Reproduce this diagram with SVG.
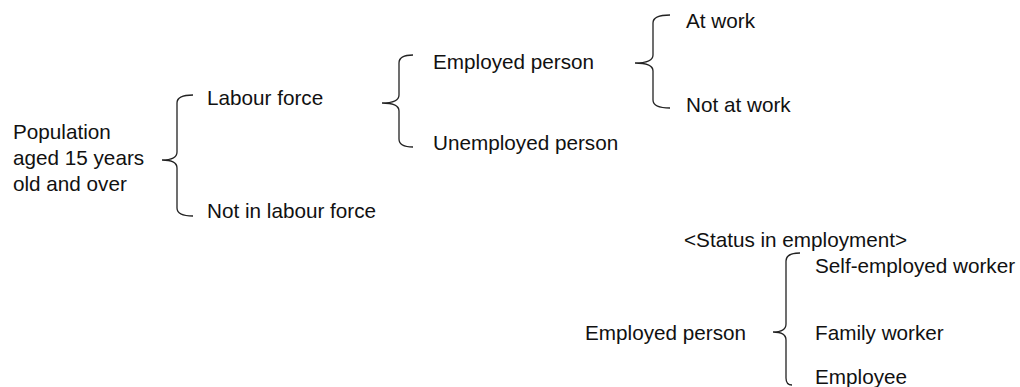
<svg xmlns="http://www.w3.org/2000/svg" width="1020" height="387" viewBox="0 0 1020 387">
<style>
text{font-family:"Liberation Sans",Arial,sans-serif;font-size:20.7px;fill:#111}
.br{fill:none;stroke:#222;stroke-width:1.3}
</style>
<rect width="1020" height="387" fill="#fff"/>
<g id="connectors">
<path class="br" d="M193,95 Q177,95 177,103 L177,152 Q177,160 162,160 Q177,160 177,168 L177,208 Q177,216 193,216"/>
<path class="br" d="M413,55 Q399,55 399,63 L399,95 Q399,103 382,103 Q399,103 399,111 L399,139 Q399,147 413,147"/>
<path class="br" d="M670,15 Q653,15 653,23 L653,55 Q653,63 635,63 Q653,63 653,71 L653,100 Q653,108 670,108"/>
<path class="br" d="M800,253 Q786,253 786,261 L786,324 Q786,332 773,332 Q786,332 786,340 L786,378 Q786,385 792,385"/>
</g>
<g id="population"><text x="13" y="139">Population</text><text x="13" y="165">aged 15 years</text><text x="13" y="191">old and over</text></g>
<g id="labour-force"><text x="207" y="105">Labour force</text></g>
<g id="not-in-labour-force"><text x="207" y="218">Not in labour force</text></g>
<g id="employed"><text x="433" y="69">Employed person</text></g>
<g id="unemployed"><text x="433" y="150">Unemployed person</text></g>
<g id="at-work"><text x="686" y="28">At work</text></g>
<g id="not-at-work"><text x="686" y="112">Not at work</text></g>
<g id="status-title"><text x="684" y="247">&lt;Status in employment&gt;</text></g>
<g id="employed-2"><text x="585" y="340">Employed person</text></g>
<g id="self-employed"><text x="815" y="273">Self-employed worker</text></g>
<g id="family-worker"><text x="815" y="340">Family worker</text></g>
<g id="employee"><text x="815" y="384">Employee</text></g>
</svg>
